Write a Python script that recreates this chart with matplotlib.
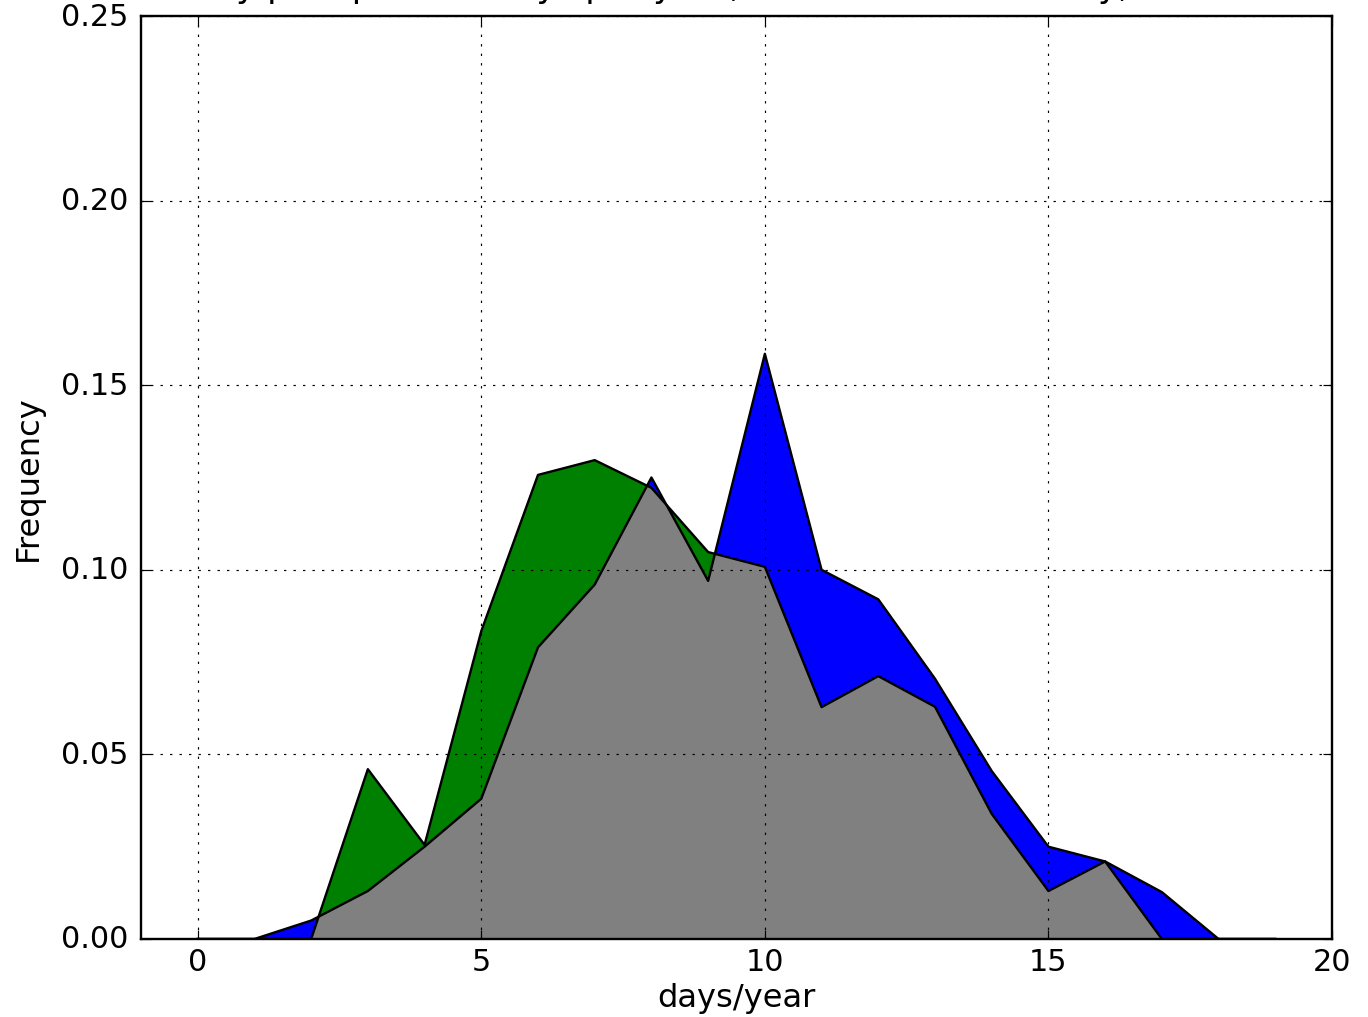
import numpy as np
import matplotlib
matplotlib.use("Agg")
import matplotlib.pyplot as plt

plt.style.use("classic")

# days/year bins
days = np.arange(0, 20)

# first period (blue) and second period (green) frequencies
freq_a = [0.0, 0.0, 0.005, 0.013, 0.025, 0.038, 0.079, 0.096, 0.125, 0.097,
          0.1585, 0.100, 0.092, 0.0705, 0.0455, 0.025, 0.021, 0.0127, 0.0, 0.0]
freq_b = [0.0, 0.0, 0.0, 0.046, 0.0255, 0.0834, 0.1257, 0.1297, 0.1222, 0.1048,
          0.1008, 0.0628, 0.0712, 0.0629, 0.0339, 0.013, 0.021, 0.0, 0.0, 0.0]

title = "Heavy precipitation days per year, threshold 20 mm/day, 1961-1990"

fig = plt.figure(figsize=(8, 1018 / 171), dpi=171, facecolor="white")
ax = fig.add_axes([141 / 1368, 78 / 1018, 1191 / 1368, 923 / 1018])

a = np.array(freq_a)
b = np.array(freq_b)

blue = ax.fill_between(days, 0, a, facecolor="b", edgecolor="none")
green = ax.fill_between(days, 0, b, facecolor="g", edgecolor="none")
# overlap of both distributions in gray
gray = ax.fill_between(days, 0, a, facecolor="0.5", edgecolor="none")
gray.set_clip_path(green.get_paths()[0], ax.transData)

ax.plot(days, a, color="k", lw=1.0)
ax.plot(days, b, color="k", lw=1.0)

ax.set_xlim(-1, 20)
ax.set_ylim(0, 0.25)
ax.set_xticks([0, 5, 10, 15, 20])
ax.set_yticks([0.0, 0.05, 0.10, 0.15, 0.20, 0.25])
ax.set_yticklabels(["0.00", "0.05", "0.10", "0.15", "0.20", "0.25"])
ax.tick_params(axis="x", labelsize=12.8, pad=3.5)
ax.tick_params(axis="y", labelsize=12.8, pad=5.5)
ax.grid(True)
ax.set_axisbelow(False)
ax.set_xlabel("days/year", fontsize=13.5, labelpad=2.5)
ax.set_ylabel("Frequency", fontsize=13.5, labelpad=7)
ax.set_title(title, pad=8.5, fontsize=14.4)

fig.savefig("out.png", dpi=171, facecolor="white")
